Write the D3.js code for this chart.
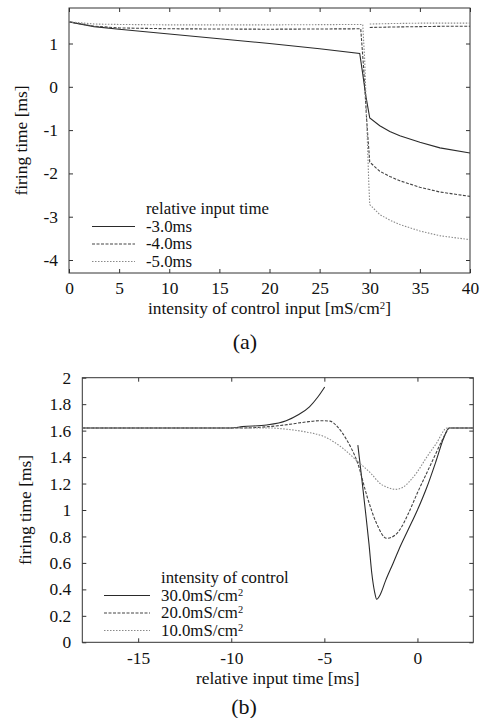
<!DOCTYPE html>
<html><head><meta charset="utf-8">
<script src="https://cdn.jsdelivr.net/npm/d3@7"></script>
<style>
html,body{margin:0;padding:0;background:#fff;}
svg text{font-family:"Liberation Serif","Times New Roman",serif;fill:#111;}
</style></head>
<body><svg id="c" width="481" height="718"></svg>
<script>
// ---------- Data: panel (a) ----------
const aXTicks = [0,5,10,15,20,25,30,35,40];
const aYTicks = [-4,-3,-2,-1,0,1];
const aLegend = ["-3.0ms","-4.0ms","-5.0ms"];
const aX3 = [0,2.5,5,10,15,20,25,29,29.3,29.6,30,31,32,33,35,37,40];
const aY3 = [1.5,1.39,1.33,1.22,1.11,1.0,0.88,0.77,0.3,-0.2,-0.72,-0.9,-1.03,-1.13,-1.28,-1.41,-1.53];
const aX4 = [0,2.5,5,10,20,29.1,29.4,29.7,30,31,32,33,35,37,40];
const aY4 = [1.5,1.4,1.36,1.34,1.33,1.34,0.4,-0.8,-1.74,-1.95,-2.07,-2.17,-2.32,-2.43,-2.53];
const aX5 = [0,2.5,5,10,20,29.3,29.5,29.7,29.9,30,31,32,33,35,37,40];
const aY5 = [1.5,1.45,1.44,1.43,1.43,1.44,0.6,-0.8,-2.2,-2.72,-2.95,-3.08,-3.18,-3.33,-3.44,-3.53];
const aUpX = [30,32,35,38,40];
const aUp4 = [1.37,1.38,1.39,1.4,1.4];
const aUp5 = [1.45,1.46,1.47,1.47,1.47];

// ---------- Data: panel (b) ----------
const bXTicks = [-15,-10,-5,0];
const bYTicks = [0,0.2,0.4,0.6,0.8,1,1.2,1.4,1.6,1.8,2];
const bLegend = ["30.0mS/cm^2","20.0mS/cm^2","10.0mS/cm^2"];
const b30aX = [-18,-10,-9.4,-8.1,-7.05,-6.4,-5.8,-5.34,-4.98];
const b30aY = [1.62,1.62,1.63,1.643,1.675,1.72,1.78,1.856,1.93];
const b30bX = [-3.2,-3.0,-2.8,-2.6,-2.45,-2.3,-2.19,-2.0,-1.7,-1.3,-1.0,-0.5,0,0.5,1.0,1.4,1.7,3];
const b30bY = [1.49,1.25,1.0,0.74,0.52,0.38,0.325,0.36,0.47,0.6,0.7,0.85,1.0,1.17,1.37,1.54,1.62,1.62];
const b20X = [-18,-9.5,-8,-7,-6,-5.2,-4.7,-4.3,-3.8,-3.2,-2.7,-2.2,-1.65,-1.2,-0.9,-0.5,0,0.5,0.9,1.3,1.6,1.7,3];
const b20Y = [1.62,1.62,1.63,1.645,1.665,1.675,1.672,1.63,1.53,1.35,1.1,0.9,0.786,0.81,0.86,0.97,1.13,1.28,1.40,1.52,1.6,1.62,1.62];
const b10X = [-18,-8,-7,-6,-5,-4,-3.2,-2.5,-2,-1.6,-1.2,-0.8,-0.4,0,0.5,1.0,1.6,3];
const b10Y = [1.62,1.62,1.61,1.59,1.554,1.466,1.365,1.277,1.2,1.17,1.156,1.17,1.22,1.29,1.4,1.5,1.62,1.62];

// ---------- Drawing ----------
const svg = d3.select("#c");
const FS = 17.4;
const styles = [
  {stroke:"#2a2a2a", dash:null, w:1.1},
  {stroke:"#444", dash:"3,1.5", w:1.1},
  {stroke:"#8a8a8a", dash:"1.5,1.5", w:1.1}
];
const fmt = d => String(Math.round(d*10)/10);

// writes text, turning "^2" into a small raised 2
function richText(sel, str, fs){
  const parts = str.split("^");
  sel.append("tspan").text(parts[0]);
  for(let i=1;i<parts.length;i++){
    sel.append("tspan").attr("dy",-5).attr("font-size",fs*0.62).text(parts[i][0]);
    const rest = parts[i].slice(1);
    if(rest) sel.append("tspan").attr("dy",5).text(rest);
  }
}

function panel(o){
  const g = svg.append("g");
  const x = d3.scaleLinear().domain(o.xd).range([o.l,o.r]);
  const y = d3.scaleLinear().domain(o.yd).range([o.b,o.t]);
  const ts = 4;
  const ax = (gen, tr, lab) => {
    const a = g.append("g").attr("transform",tr).call(gen);
    a.select(".domain").remove();
    a.selectAll("line").attr("stroke","#333");
    a.selectAll("text").attr("font-size",FS).attr("fill","#111")
      .style("font-family","Liberation Serif");
    if(!lab) a.selectAll("text").remove();
    return a;
  };
  ax(d3.axisBottom(x).tickValues(o.xt).tickSize(-ts).tickPadding(9).tickFormat(fmt), `translate(0,${o.b})`, true);
  ax(d3.axisTop(x).tickValues(o.xt).tickSize(-ts).tickFormat(fmt), `translate(0,${o.t})`, false);
  ax(d3.axisLeft(y).tickValues(o.yt).tickSize(-ts).tickPadding(11).tickFormat(fmt), `translate(${o.l},0)`, true);
  ax(d3.axisRight(y).tickValues(o.yt).tickSize(-ts).tickFormat(fmt), `translate(${o.r},0)`, false);
  g.append("rect").attr("x",o.l).attr("y",o.t).attr("width",o.r-o.l).attr("height",o.b-o.t)
    .attr("fill","none").attr("stroke","#333").attr("stroke-width",1);
  const clip = "clip"+o.id;
  svg.append("clipPath").attr("id",clip).append("rect")
    .attr("x",o.l).attr("y",o.t).attr("width",o.r-o.l).attr("height",o.b-o.t);
  const line = d3.line().x(d=>x(d[0])).y(d=>y(d[1])).curve(o.curve);
  o.series.forEach(s=>{
    const st = styles[s.s];
    g.append("path").datum(d3.zip(s.x,s.y)).attr("d",line)
      .attr("fill","none").attr("stroke",st.stroke).attr("stroke-width",st.w)
      .attr("stroke-dasharray",st.dash).attr("clip-path",`url(#${clip})`);
  });
  // axis titles
  richText(g.append("text").attr("x",(o.l+o.r)/2).attr("y",o.xlabY).attr("text-anchor","middle")
    .attr("font-size",FS), o.xlab, FS);
  g.append("text").attr("transform",`translate(${o.ylabX},${(o.t+o.b)/2}) rotate(-90)`)
    .attr("text-anchor","middle").attr("font-size",FS).text(o.ylab);
  // legend
  g.append("text").attr("x",o.legX).attr("y",o.legY).attr("font-size",o.legFS).text(o.legTitle);
  o.legNames.forEach((n,i)=>{
    const yy = o.legY + o.legDy*(i+1);
    const st = styles[i];
    g.append("line").attr("x1",o.legL1).attr("x2",o.legL2).attr("y1",yy-5).attr("y2",yy-5)
      .attr("stroke",st.stroke).attr("stroke-width",st.w).attr("stroke-dasharray",st.dash);
    richText(g.append("text").attr("x",o.legX).attr("y",yy).attr("font-size",o.legFS), n, o.legFS);
  });
  svg.append("text").attr("x",o.capX).attr("y",o.capY).attr("text-anchor","middle")
    .attr("font-size",22).text(o.cap);
}

panel({
  id:"a", l:69, r:470, t:8, b:273, xd:[0,40], yd:[-4.3,1.82],
  xt:aXTicks, yt:aYTicks, curve:d3.curveLinear,
  series:[
    {x:aX3,y:aY3,s:0},{x:aX4,y:aY4,s:1},{x:aX5,y:aY5,s:2},
    {x:aUpX,y:aUp4,s:1},{x:aUpX,y:aUp5,s:2}
  ],
  xlab:"intensity of control input [mS/cm^2]", xlabY:314,
  ylab:"firing time [ms]", ylabX:27,
  legTitle:"relative input time", legNames:aLegend, legX:146, legY:214, legDy:17.5, legFS:16.8,
  legL1:92, legL2:135,
  cap:"(a)", capX:245, capY:349
});

panel({
  id:"b", l:82.3, r:473.3, t:377.7, b:642.3, xd:[-18,3], yd:[0,2],
  xt:bXTicks, yt:bYTicks, curve:d3.curveMonotoneX,
  series:[
    {x:b30aX,y:b30aY,s:0},{x:b30bX,y:b30bY,s:0},{x:b20X,y:b20Y,s:1},{x:b10X,y:b10Y,s:2}
  ],
  xlab:"relative input time [ms]", xlabY:684,
  ylab:"firing time [ms]", ylabX:31,
  legTitle:"intensity of control", legNames:bLegend, legX:161, legY:583, legDy:17.5, legFS:16.8,
  legL1:104, legL2:150,
  cap:"(b)", capX:244, capY:714
});
</script></body></html>
